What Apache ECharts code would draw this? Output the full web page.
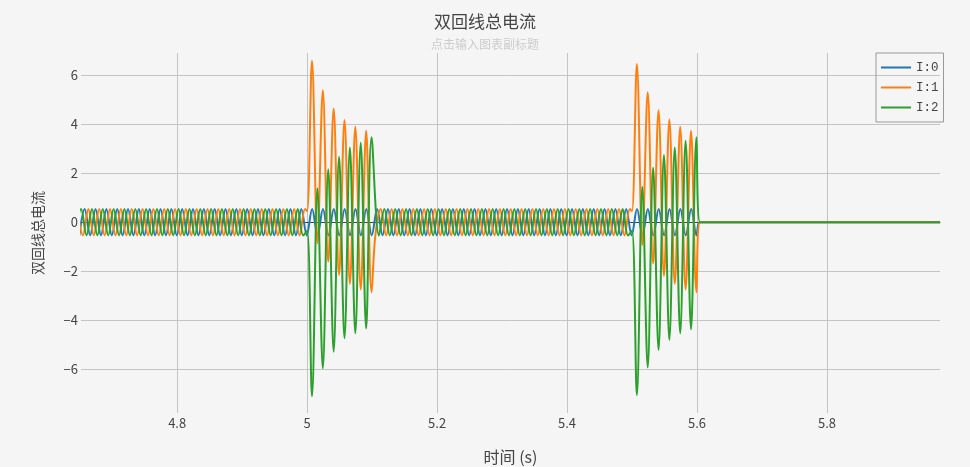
<!DOCTYPE html>
<html>
<head>
<meta charset="utf-8">
<script src="https://cdn.jsdelivr.net/npm/echarts@6/dist/echarts.min.js"></script>
<style>
html,body{margin:0;padding:0;background:#f5f5f5;}
#chart{width:970px;height:467px;}
</style>
</head>
<body>
<div id="chart"></div>
<script>
// ---- data (extrema of each waveform, spaced by half a 60 Hz period) ----
const HALF_PERIOD = 1 / 120;
const seriesNames = ['I:0', 'I:1', 'I:2'];
const xRange = [4.652, 5.974];
const yRange = [-7.78, 6.9];

// I:0 — steady sinusoid until the line is opened
const i0Start = 4.6494;
const i0Values = [
  -0.54, 0.54, -0.54, 0.54, -0.54, 0.54, -0.54, 0.54, -0.54, 0.54,
  -0.54, 0.54, -0.54, 0.54, -0.54, 0.54, -0.54, 0.54, -0.54, 0.54,
  -0.54, 0.54, -0.54, 0.54, -0.54, 0.54, -0.54, 0.54, -0.54, 0.54,
  -0.54, 0.54, -0.54, 0.54, -0.54, 0.54, -0.54, 0.54, -0.54, 0.54,
  -0.54, 0.54, -0.54, 0.54, -0.54, 0.54, -0.54, 0.54, -0.54, 0.54,
  -0.54, 0.54, -0.54, 0.54, -0.54, 0.54, -0.54, 0.54, -0.54, 0.54,
  -0.54, 0.54, -0.54, 0.54, -0.54, 0.54, -0.54, 0.54, -0.54, 0.54,
  -0.54, 0.54, -0.54, 0.54, -0.54, 0.54, -0.54, 0.54, -0.54, 0.54,
  -0.54, 0.54, -0.54, 0.54, -0.54, 0.54, -0.54, 0.54, -0.54, 0.54,
  -0.54, 0.54, -0.54, 0.54, -0.54, 0.54, -0.54, 0.54, -0.54, 0.54,
  -0.54, 0.54, -0.54, 0.54, -0.54, 0.54, -0.54, 0.54, -0.54, 0.54,
  -0.54, 0.54, -0.54, 0.54, -0.54
];
const i0Tail = [[5.6046, 0], [5.974, 0]];

// I:1
const i1PreStart = 4.6467;
const i1PreValues = [
  0.54, -0.54, 0.54, -0.54, 0.54, -0.54, 0.54, -0.54, 0.54, -0.54,
  0.54, -0.54, 0.54, -0.54, 0.54, -0.54, 0.54, -0.54, 0.54, -0.54,
  0.54, -0.54, 0.54, -0.54, 0.54, -0.54, 0.54, -0.54, 0.54, -0.54,
  0.54, -0.54, 0.54, -0.54, 0.54, -0.54, 0.54, -0.54, 0.54, -0.54,
  0.54, -0.54, 0.54
];
const i1Onset1 = [[5.0, 0.45]];
const i1Fault1Start = 5.0075;
const i1Fault1Values = [6.58, -0.86, 5.38, -1.61, 4.64, -2.15, 4.17, -2.52, 3.89, -2.74, 3.73, -2.86];
const i1MidStart = 5.1050;
const i1MidValues = [
  -0.54, 0.54, -0.54, 0.54, -0.54, 0.54, -0.54, 0.54, -0.54, 0.54,
  -0.54, 0.54, -0.54, 0.54, -0.54, 0.54, -0.54, 0.54, -0.54, 0.54,
  -0.54, 0.54, -0.54, 0.54, -0.54, 0.54, -0.54, 0.54, -0.54, 0.54,
  -0.54, 0.54, -0.54, 0.54, -0.54, 0.54, -0.54, 0.54, -0.54, 0.54,
  -0.54, 0.54, -0.54, 0.54, -0.54, 0.54, -0.54, 0.54
];
const i1Onset2 = [[5.5, 0.45]];
const i1Fault2Start = 5.5075;
const i1Fault2Values = [6.45, -0.93, 5.30, -1.68, 4.57, -2.19, 4.19, -2.52, 3.89, -2.74, 3.73, -2.86];
const i1Tail = [[5.6046, 0], [5.974, 0]];

// I:2
const i2PreStart = 4.6439;
const i2PreValues = [
  -0.54, 0.54, -0.54, 0.54, -0.54, 0.54, -0.54, 0.54, -0.54, 0.54,
  -0.54, 0.54, -0.54, 0.54, -0.54, 0.54, -0.54, 0.54, -0.54, 0.54,
  -0.54, 0.54, -0.54, 0.54, -0.54, 0.54, -0.54, 0.54, -0.54, 0.54,
  -0.54, 0.54, -0.54, 0.54, -0.54, 0.54, -0.54, 0.54, -0.54, 0.54,
  -0.54, 0.54, -0.54
];
const i2Onset1 = [[5.0, -0.35]];
const i2Fault1Start = 5.0075;
const i2Fault1Values = [-7.10, 1.38, -5.96, 2.16, -5.28, 2.67, -4.73, 3.05, -4.53, 3.24, -4.33, 3.46];
const i2MidStart = 5.1106;
const i2MidValues = [
  -0.54, 0.54, -0.54, 0.54, -0.54, 0.54, -0.54, 0.54, -0.54, 0.54,
  -0.54, 0.54, -0.54, 0.54, -0.54, 0.54, -0.54, 0.54, -0.54, 0.54,
  -0.54, 0.54, -0.54, 0.54, -0.54, 0.54, -0.54, 0.54, -0.54, 0.54,
  -0.54, 0.54, -0.54, 0.54, -0.54, 0.54, -0.54, 0.54, -0.54, 0.54,
  -0.54, 0.54, -0.54, 0.54, -0.54, 0.54, -0.54
];
const i2Onset2 = [[5.5, -0.35]];
const i2Fault2Start = 5.5075;
const i2Fault2Values = [-7.05, 1.45, -5.92, 2.22, -5.21, 2.74, -4.80, 3.05, -4.53, 3.32, -4.37, 3.46];
const i2Tail = [[5.6046, 0], [5.974, 0]];

// ---- build ----
function seg(start, vals) { return vals.map((v, i) => [start + i * HALF_PERIOD, v]); }

const i0Data = [].concat(seg(i0Start, i0Values), i0Tail);
const i1Data = [].concat(seg(i1PreStart, i1PreValues), i1Onset1, seg(i1Fault1Start, i1Fault1Values),
  seg(i1MidStart, i1MidValues), i1Onset2, seg(i1Fault2Start, i1Fault2Values), i1Tail);
const i2Data = [].concat(seg(i2PreStart, i2PreValues), i2Onset1, seg(i2Fault1Start, i2Fault1Values),
  seg(i2MidStart, i2MidValues), i2Onset2, seg(i2Fault2Start, i2Fault2Values), i2Tail);

const colors = ['#1f77b4', '#ff7f0e', '#2ca02c'];
const FONT = '"Noto Sans CJK SC", "Open Sans", sans-serif';

function mkSeries(name, data, color) {
  return {
    name: name, type: 'line', data: data, xAxisIndex: 0,
    showSymbol: false, symbol: 'none', smooth: 0.36,
    lineStyle: { width: 2, color: color }, itemStyle: { color: color },
    animation: false
  };
}

const chart = echarts.init(document.getElementById('chart'), null, { renderer: 'canvas' });
chart.setOption({
  backgroundColor: '#f5f5f5',
  animation: false,
  title: {
    text: '双回线总电流', subtext: '点击输入图表副标题',
    left: 'center', top: 8, itemGap: 8,
    textStyle: { fontSize: 17, fontWeight: 'normal', color: '#444', fontFamily: FONT },
    subtextStyle: { fontSize: 12, color: '#cccccc', fontFamily: FONT }
  },
  legend: {
    data: seriesNames, orient: 'vertical', left: 876, top: 53,
    padding: [8, 5, 8, 5], itemGap: 7, itemWidth: 30, itemHeight: 2,
    icon: 'rect', borderColor: '#999', borderWidth: 1,
    textStyle: { fontSize: 12.5, color: '#444', fontFamily: '"Liberation Mono", monospace' }
  },
  grid: { left: 81, right: 30, top: 53, bottom: 54, containLabel: false, outerBoundsMode: 'none' },
  xAxis: [{
    type: 'value', min: xRange[0], max: xRange[1], splitNumber: 6,
    name: '时间 (s)', nameLocation: 'middle', nameGap: 36,
    nameTextStyle: { fontSize: 16, color: '#444', fontFamily: FONT },
    axisLine: { show: false, onZero: false }, axisTick: { show: false },
    axisLabel: { showMinLabel: false, showMaxLabel: false, margin: 4, fontSize: 13, color: '#444', fontFamily: FONT },
    splitLine: { show: true, showMinLine: false, showMaxLine: false, lineStyle: { color: '#c4c4c4', width: 1 } }
  }, {
    type: 'value', min: xRange[0], max: xRange[1], position: 'bottom',
    axisLine: { show: true, onZero: true, lineStyle: { color: '#444', width: 1 } },
    axisTick: { show: false }, axisLabel: { show: false }, splitLine: { show: false }
  }],
  yAxis: {
    type: 'value', min: yRange[0], max: yRange[1], splitNumber: 7,
    name: '双回线总电流', nameLocation: 'middle', nameGap: 36,
    nameTextStyle: { fontSize: 14, color: '#444', fontFamily: FONT },
    axisLine: { show: false }, axisTick: { show: false },
    axisLabel: {
      showMinLabel: false, showMaxLabel: false, margin: 3, fontSize: 13, color: '#444', fontFamily: FONT,
      formatter: v => String(v).replace('-', '\u2212')
    },
    splitLine: { show: true, showMinLine: false, showMaxLine: false, lineStyle: { color: '#c4c4c4', width: 1 } }
  },
  series: [
    mkSeries(seriesNames[0], i0Data, colors[0]),
    mkSeries(seriesNames[1], i1Data, colors[1]),
    mkSeries(seriesNames[2], i2Data, colors[2])
  ]
});
</script>
</body>
</html>
